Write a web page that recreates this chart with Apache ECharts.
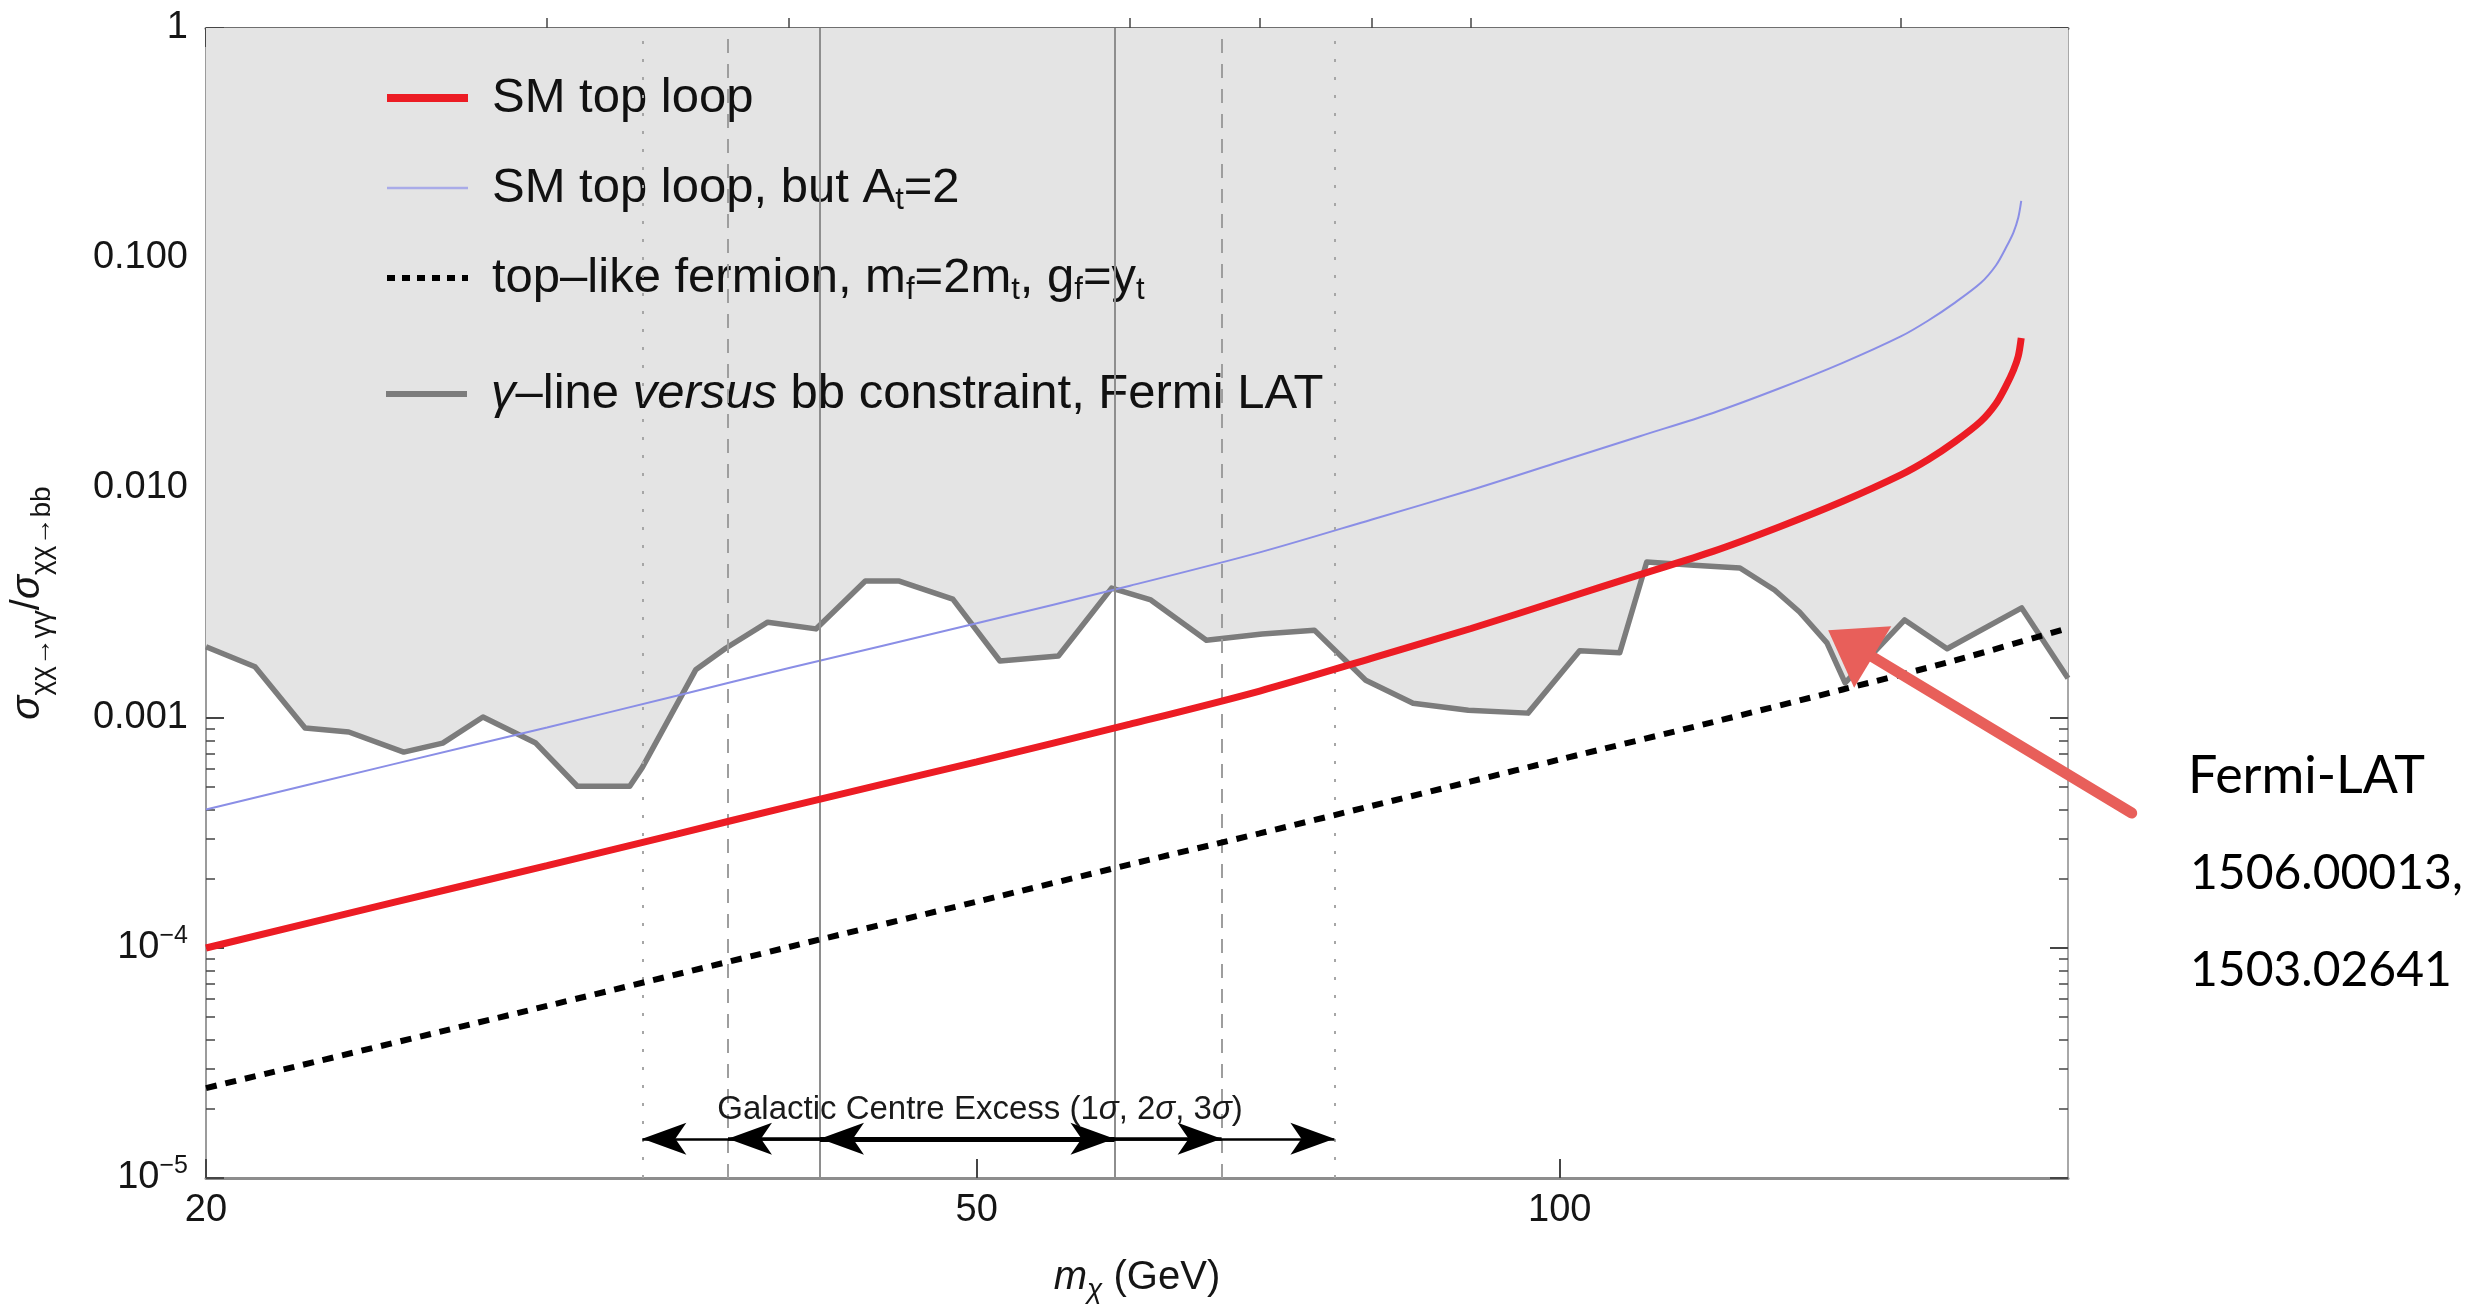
<!DOCTYPE html>
<html>
<head>
<meta charset="utf-8">
<script src="https://cdn.jsdelivr.net/npm/echarts@6/dist/echarts.min.js"></script>
<style>
  html, body { margin: 0; padding: 0; background: #ffffff; }
  #chart { width: 2490px; height: 1306px; }
</style>
</head>
<body>
<div id="chart"></div>
<script>
// ---- data: dark-matter mass m_chi (GeV) and cross-section ratios ----
const MASS_FERMI = [20.0, 21.2, 22.5, 23.7, 25.3, 26.5, 27.8, 29.6, 31.1, 33.1, 33.6, 35.8, 37.1, 39.0, 41.3,
  43.8, 45.6, 48.6, 51.4, 55.1, 58.7, 61.5, 65.7, 70.2, 74.7, 79.4, 84.0, 89.7, 96.3, 102.4, 107.4, 110.9,
  117.3, 123.9, 129.1, 133.0, 137.4, 140.4, 150.7, 158.5, 173.2, 183.0];
const FERMI_LIMIT = [2.04e-3, 1.67e-3, 9.05e-4, 8.69e-4, 7.11e-4, 7.78e-4, 1.01e-3, 7.78e-4, 5.05e-4, 5.05e-4,
  6.10e-4, 1.62e-3, 2.01e-3, 2.61e-3, 2.44e-3, 3.94e-3, 3.94e-3, 3.29e-3, 1.77e-3, 1.86e-3, 3.67e-3, 3.26e-3,
  2.18e-3, 2.32e-3, 2.41e-3, 1.46e-3, 1.16e-3, 1.08e-3, 1.05e-3, 1.96e-3, 1.92e-3, 4.77e-3, 4.62e-3, 4.49e-3,
  3.60e-3, 2.89e-3, 2.12e-3, 1.42e-3, 2.67e-3, 2.00e-3, 3.01e-3, 1.49e-3];

const MASS_LOOP = [20, 25, 30, 35, 40, 50, 60, 70, 80, 90, 100, 110, 120, 130, 140, 150, 155, 160, 165, 168,
  170, 171.5, 172.5, 173.1];
const SM_TOP_LOOP = [1.00e-4, 1.58e-4, 2.28e-4, 3.13e-4, 4.12e-4, 6.45e-4, 9.40e-4, 1.31e-3, 1.82e-3, 2.45e-3,
  3.25e-3, 4.20e-3, 5.30e-3, 6.80e-3, 8.75e-3, 1.14e-2, 1.33e-2, 1.59e-2, 1.95e-2, 2.33e-2, 2.78e-2, 3.25e-2,
  3.75e-2, 4.49e-2];
const SM_TOP_LOOP_AT2 = [4.00e-4, 6.30e-4, 9.10e-4, 1.25e-3, 1.65e-3, 2.58e-3, 3.76e-3, 5.25e-3, 7.30e-3, 9.80e-3,
  1.30e-2, 1.68e-2, 2.12e-2, 2.72e-2, 3.50e-2, 4.56e-2, 5.35e-2, 6.40e-2, 7.80e-2, 9.30e-2, 1.11e-1, 1.29e-1,
  1.50e-1, 1.77e-1];

const MASS_FERMION = [20, 30, 40, 50, 60, 70, 80, 90, 100, 120, 140, 160, 183];
const TOP_LIKE_FERMION = [2.46e-5, 5.60e-5, 1.01e-4, 1.59e-4, 2.31e-4, 3.15e-4, 4.15e-4, 5.30e-4, 6.60e-4,
  9.60e-4, 1.33e-3, 1.78e-3, 2.46e-3];

// Galactic Centre Excess mass ranges (GeV)
const GCE_1SIGMA = [41.5, 58.9];
const GCE_2SIGMA = [37.2, 66.9];
const GCE_3SIGMA = [33.6, 76.5];
const GCE_ARROW_LEVEL = 1.48e-5;
const GCE_LABEL_AT = [50.2, 1.98e-5];

// Fermi-LAT pointer (head at the dip of the limit curve)
const POINTER_TIP = [137.6, 2.41e-3];
const POINTER_TAIL = [197.4, 3.86e-4];

// axes
const X_RANGE = [20, 183];
const Y_RANGE = [1e-5, 1];
const X_MAJOR = [20, 50, 100];
const X_MINOR = [30, 40, 60, 70, 80, 90, 150];
const Y_MAJOR = [1e-5, 1e-4, 1e-3, 1e-2, 1e-1, 1];
const Y_MAJOR_LABELS = ['10{sup|\u22125}', '10{sup|\u22124}', '0.001', '0.010', '0.100', '1'];

// series names and their legend text
const N_SM = 'SM top loop';
const N_AT2 = 'SM top loop, but A_t=2';
const N_FERMION = 'top-like fermion, m_f=2m_t, g_f=y_t';
const N_FERMI = 'gamma-line versus bb constraint, Fermi LAT';
const LEGEND_TEXT = {};
LEGEND_TEXT[N_SM] = 'SM top loop';
LEGEND_TEXT[N_AT2] = 'SM top loop, but A{sub|t}=2';
LEGEND_TEXT[N_FERMION] = 'top\u2013like fermion, m{sub|f}=2m{sub|t}, g{sub|f}=y{sub|t}';
LEGEND_TEXT[N_FERMI] = '{it|\u03b3}\u2013line {it|versus} bb constraint, Fermi LAT';

const ANNOTATION_LINES = ['Fermi-LAT', '1506.00013,', '1503.02641'];

// ---- chart ----
const FONT = '"Liberation Sans", Arial, Helvetica, sans-serif';
const NOTE_FONT = 'Lato, "Open Sans", sans-serif';
const log10 = Math.log10;
const zip = (xs, ys) => xs.map((x, i) => [x, ys[i]]);

const Y_MINOR = [];
for (let e = -5; e < 0; e++) {
  for (let k = 2; k <= 9; k++) Y_MINOR.push(k * Math.pow(10, e));
}

const xLo = log10(X_RANGE[0]), xHi = log10(X_RANGE[1]);
const yLo = log10(Y_RANGE[0]), yHi = log10(Y_RANGE[1]);

// frame axes: value axes in log10 units that only carry ticks, labels and titles
function frameAxis(dim, position, ticks, len, opts) {
  const o = opts || {};
  return {
    type: 'value', gridIndex: 0, position: position,
    min: dim === 'x' ? xLo : yLo, max: dim === 'x' ? xHi : yHi,
    silent: true,
    axisLine: o.line ? { show: true, onZero: false, lineStyle: { color: o.line, width: o.lineWidth || 2 } } : { show: false },
    axisTick: { show: true, inside: true, length: len, customValues: ticks.map(log10),
      lineStyle: { color: '#454545', width: o.tickWidth || 2 } },
    axisLabel: o.labels ? Object.assign({ show: true, customValues: ticks.map(log10) }, o.labels) : { show: false },
    splitLine: { show: false },
    name: o.name || '', nameLocation: 'middle', nameGap: o.nameGap || 0, nameRotate: o.nameRotate || 0,
    nameTextStyle: o.nameTextStyle || {}
  };
}

const legendText = {
  fontFamily: FONT, fontSize: 49, color: '#111', lineHeight: 56, padding: [0, 0, 0, 19],
  rich: {
    sub: { fontSize: 31, lineHeight: 31, verticalAlign: 'bottom' },
    it: { fontStyle: 'italic', fontSize: 49 }
  }
};

const chart = echarts.init(document.getElementById('chart'), null, { renderer: 'canvas' });

const option = {
  animation: false,
  backgroundColor: '#ffffff',
  textStyle: { fontFamily: FONT },
  grid: { left: 206, top: 28, width: 1862, height: 1150, containLabel: false, outerBoundsMode: 'none' },
  xAxis: [
    { type: 'log', logBase: 10, min: X_RANGE[0], max: X_RANGE[1], show: false, gridIndex: 0 },
    frameAxis('x', 'bottom', X_MAJOR, 19, {
      line: '#8d8d8d', lineWidth: 3,
      labels: { margin: 14, fontSize: 38, color: '#151515', fontFamily: FONT,
        formatter: v => String(Math.round(Math.pow(10, v))) },
      name: '{it|m}{sub|\u03c7}{n| (GeV)}', nameGap: 74,
      nameTextStyle: { fontFamily: FONT, fontSize: 40, color: '#151515', lineHeight: 52,
        rich: { it: { fontStyle: 'italic', fontSize: 40 }, sub: { fontStyle: 'italic', fontSize: 28, lineHeight: 28, verticalAlign: 'bottom' }, n: { fontSize: 40 } } }
    }),
    frameAxis('x', 'bottom', X_MINOR, 10, { tickWidth: 1.5 }),
    frameAxis('x', 'top', X_MAJOR, 19, { line: '#6f6f6f', lineWidth: 3 }),
    frameAxis('x', 'top', X_MINOR, 10, { tickWidth: 1.5 })
  ],
  yAxis: [
    { type: 'log', logBase: 10, min: Y_RANGE[0], max: Y_RANGE[1], show: false, gridIndex: 0 },
    frameAxis('y', 'left', Y_MAJOR, 18, {
      line: '#9b9b9b', lineWidth: 2,
      labels: { margin: 18, fontSize: 38, color: '#151515', fontFamily: FONT, lineHeight: 48,
        formatter: v => Y_MAJOR_LABELS[Math.round(v) + 5],
        rich: { sup: { fontSize: 25, lineHeight: 25, verticalAlign: 'top' } } },
      name: '{s|\u03c3}{sub|\u03c7\u03c7\u2192\u03b3\u03b3}{d|/}{s|\u03c3}{sub|\u03c7\u03c7\u2192bb}',
      nameGap: 150, nameRotate: 90,
      nameTextStyle: { fontFamily: FONT, fontSize: 40, color: '#151515', lineHeight: 56,
        rich: { s: { fontStyle: 'italic', fontSize: 40 }, d: { fontSize: 40 },
          sub: { fontSize: 28, lineHeight: 28, verticalAlign: 'bottom' } } }
    }),
    frameAxis('y', 'left', Y_MINOR, 9, { tickWidth: 1.5 }),
    frameAxis('y', 'right', Y_MAJOR, 18, { line: '#a8a8a8', lineWidth: 2 }),
    frameAxis('y', 'right', Y_MINOR, 9, { tickWidth: 1.5 })
  ],
  legend: [
    {
      data: [
        { name: N_SM, lineStyle: { width: 8, color: '#ec1c24' } },
        { name: N_AT2, lineStyle: { width: 2.5, color: '#a9abe8' } },
        { name: N_FERMION, lineStyle: { width: 6, color: '#000', type: [8, 7] } }
      ],
      orient: 'vertical', left: 383, top: 70, padding: 0,
      itemWidth: 81, itemHeight: 14, itemGap: 34, selectedMode: false,
      itemStyle: { opacity: 0 },
      formatter: name => LEGEND_TEXT[name],
      textStyle: legendText
    },
    {
      data: [{ name: N_FERMI, lineStyle: { width: 6, color: '#7c7c7c' } }],
      orient: 'vertical', left: 383, top: 366, padding: 0,
      itemWidth: 81, itemHeight: 14, selectedMode: false,
      itemStyle: { opacity: 0 },
      formatter: name => LEGEND_TEXT[name],
      textStyle: legendText
    }
  ],
  series: [
    { // shaded region above the Fermi-LAT limit
      name: 'excluded', type: 'line', xAxisIndex: 0, yAxisIndex: 0, z: 1, silent: true,
      data: zip(MASS_FERMI, FERMI_LIMIT), symbol: 'none',
      lineStyle: { width: 0 }, areaStyle: { origin: 'end', color: '#e4e4e4', opacity: 1 }
    },
    { // GCE mass-range boundaries
      name: 'gce-bounds', type: 'line', xAxisIndex: 0, yAxisIndex: 0, z: 2, silent: true, data: [],
      markLine: {
        silent: true, symbol: 'none', animation: false, label: { show: false },
        data: [
          { xAxis: GCE_3SIGMA[0], lineStyle: { type: [3, 15], color: '#a6a6a6', width: 2 } },
          { xAxis: GCE_3SIGMA[1], lineStyle: { type: [3, 15], color: '#a6a6a6', width: 2 } },
          { xAxis: GCE_2SIGMA[0], lineStyle: { type: [14, 11], color: '#9e9e9e', width: 2 } },
          { xAxis: GCE_2SIGMA[1], lineStyle: { type: [14, 11], color: '#9e9e9e', width: 2 } },
          { xAxis: GCE_1SIGMA[0], lineStyle: { type: 'solid', color: '#8e8e8e', width: 2 } },
          { xAxis: GCE_1SIGMA[1], lineStyle: { type: 'solid', color: '#8e8e8e', width: 2 } }
        ]
      }
    },
    {
      name: N_FERMI, type: 'line', xAxisIndex: 0, yAxisIndex: 0, z: 3,
      data: zip(MASS_FERMI, FERMI_LIMIT), symbol: 'none',
      lineStyle: { color: '#7c7c7c', width: 5.5, join: 'round' }, itemStyle: { color: '#7c7c7c' }
    },
    {
      name: N_AT2, type: 'line', xAxisIndex: 0, yAxisIndex: 0, z: 4,
      data: zip(MASS_LOOP, SM_TOP_LOOP_AT2), symbol: 'none', smooth: 0.3,
      lineStyle: { color: '#8a8ee6', width: 2 }, itemStyle: { color: '#8a8ee6' }
    },
    {
      name: N_SM, type: 'line', xAxisIndex: 0, yAxisIndex: 0, z: 5,
      data: zip(MASS_LOOP, SM_TOP_LOOP), symbol: 'none', smooth: 0.3,
      lineStyle: { color: '#ec1c24', width: 7 }, itemStyle: { color: '#ec1c24' }
    },
    {
      name: N_FERMION, type: 'line', xAxisIndex: 0, yAxisIndex: 0, z: 5,
      data: zip(MASS_FERMION, TOP_LIKE_FERMION), symbol: 'none', smooth: 0.3,
      lineStyle: { color: '#000000', width: 6, type: [11, 9] }, itemStyle: { color: '#000000' }
    },
    { // GCE double-headed arrows
      name: 'gce-arrows', type: 'line', xAxisIndex: 0, yAxisIndex: 0, z: 6, silent: true, data: [],
      markLine: {
        silent: true, animation: false, symbol: ['arrow', 'arrow'], symbolSize: [24, 44],
        label: { show: false },
        lineStyle: { color: '#000', type: 'solid' },
        data: [
          [{ coord: [GCE_3SIGMA[0], GCE_ARROW_LEVEL], lineStyle: { width: 2.5 } }, { coord: [GCE_3SIGMA[1], GCE_ARROW_LEVEL] }],
          [{ coord: [GCE_2SIGMA[0], GCE_ARROW_LEVEL], lineStyle: { width: 3.5 } }, { coord: [GCE_2SIGMA[1], GCE_ARROW_LEVEL] }],
          [{ coord: [GCE_1SIGMA[0], GCE_ARROW_LEVEL], lineStyle: { width: 5 } }, { coord: [GCE_1SIGMA[1], GCE_ARROW_LEVEL] }]
        ]
      }
    }
  ]
};

chart.setOption(option);

// ---- annotations placed from data coordinates ----
const toPx = p => chart.convertToPixel({ xAxisIndex: 0, yAxisIndex: 0 }, p);
const labelPx = toPx(GCE_LABEL_AT);
const tip = toPx(POINTER_TIP);
const tail = toPx(POINTER_TAIL);
const dx = tip[0] - tail[0], dy = tip[1] - tail[1];
const len = Math.sqrt(dx * dx + dy * dy);
const ux = dx / len, uy = dy / len;
const headLen = 52, headHalf = 36;
const bx = tip[0] - ux * headLen, by = tip[1] - uy * headLen;
const nx = -uy, ny = ux;
const POINTER_COLOR = '#e85f5a';

chart.setOption({
  graphic: [
    {
      type: 'text', silent: true, z: 10,
      style: { x: labelPx[0], y: labelPx[1],
        text: 'Galactic Centre Excess (1{i|\u03c3}, 2{i|\u03c3}, 3{i|\u03c3})',
        font: '33px ' + FONT, fill: '#1a1a1a', align: 'center', verticalAlign: 'middle',
        rich: { i: { fontStyle: 'italic', fontSize: 33, fontFamily: FONT } } }
    },
    {
      type: 'polyline', silent: true, z: 10,
      shape: { points: [[tail[0], tail[1]], [bx + ux * 6, by + uy * 6]] },
      style: { stroke: POINTER_COLOR, lineWidth: 11, lineCap: 'round' }
    },
    {
      type: 'polygon', silent: true, z: 10,
      shape: { points: [[tip[0], tip[1]], [bx + nx * headHalf, by + ny * headHalf], [bx - nx * headHalf, by - ny * headHalf]] },
      style: { fill: POINTER_COLOR }
    },
    {
      type: 'text', silent: true, z: 10,
      style: { x: 2188, y: 776, text: ANNOTATION_LINES[0], font: '52px ' + NOTE_FONT, fill: '#000', verticalAlign: 'middle' }
    },
    {
      type: 'text', silent: true, z: 10,
      style: { x: 2190, y: 874, text: ANNOTATION_LINES[1], font: '48px ' + NOTE_FONT, fill: '#000', verticalAlign: 'middle' }
    },
    {
      type: 'text', silent: true, z: 10,
      style: { x: 2190, y: 971, text: ANNOTATION_LINES[2], font: '48px ' + NOTE_FONT, fill: '#000', verticalAlign: 'middle' }
    }
  ]
});
</script>
</body>
</html>
